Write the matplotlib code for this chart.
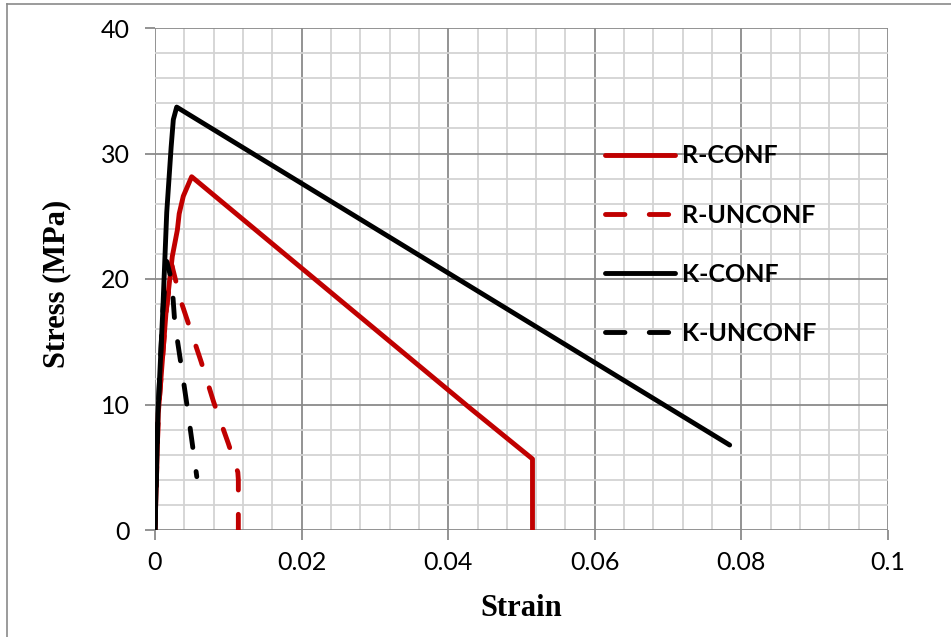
import matplotlib
matplotlib.use("Agg")
import matplotlib.pyplot as plt
from matplotlib.lines import Line2D

# ---- data ----
r_conf_strain = [0, 0.00045, 0.0015, 0.00236, 0.00305, 0.0033, 0.00386, 0.0050, 0.0430, 0.0515, 0.0515]
r_conf_stress = [0, 9.3, 17.3, 21.8, 23.9, 25.2, 26.6, 28.15, 9.7, 5.66, 0]

r_unconf_strain = [0, 0.00045, 0.0015, 0.0023, 0.0035, 0.0063, 0.0080, 0.0100, 0.0113, 0.01137, 0.01137]
r_unconf_stress = [0, 9.3, 17.3, 21.1, 18.3, 13.4, 10.2, 6.9, 4.6, 4.0, 0]

k_conf_strain = [0, 0.0004, 0.00105, 0.0016, 0.0022, 0.0025, 0.00296, 0.0784]
k_conf_stress = [0, 9.3, 17.3, 25.3, 30.5, 32.7, 33.7, 6.77]

k_unconf_strain = [0, 0.0004, 0.00105, 0.0016, 0.0023, 0.0027, 0.0036, 0.0044, 0.0052, 0.0057]
k_unconf_stress = [0, 9.3, 17.3, 21.4, 19.8, 16.5, 13.0, 9.8, 6.4, 4.25]

series_labels = ["R-CONF", "R-UNCONF", "K-CONF", "K-UNCONF"]
x_ticks = [0, 0.02, 0.04, 0.06, 0.08, 0.1]
x_ticklabels = ["0", "0.02", "0.04", "0.06", "0.08", "0.1"]
y_ticks = [0, 10, 20, 30, 40]

RED = "#C00000"
BLACK = "#000000"

W, H = 951, 637
fig = plt.figure(figsize=(W / 100, H / 100), dpi=100)
ax = fig.add_axes([155 / W, 1 - 530 / H, 733 / W, 502 / H])

# grid
for xv in [i * 0.004 for i in range(26)]:
    major = abs((xv / 0.02) - round(xv / 0.02)) < 1e-6
    ax.axvline(xv, color="#8a8a8a" if major else "#d3d3d3", lw=1.3, zorder=0)
for yv in range(0, 41, 2):
    major = yv % 10 == 0
    ax.axhline(yv, color="#8a8a8a" if major else "#d3d3d3", lw=1.3, zorder=0)

lw = 3.5
common = dict(lw=lw, solid_capstyle="round", dash_capstyle="round", solid_joinstyle="round")
ax.plot(r_conf_strain, r_conf_stress, color=RED, label=series_labels[0], **common)
ax.plot(r_unconf_strain, r_unconf_stress, color=RED, dashes=(4.0, 5.0), label=series_labels[1], **common)
ax.plot(k_conf_strain, k_conf_stress, color=BLACK, label=series_labels[2], **common)
ax.plot(k_unconf_strain, k_unconf_stress, color=BLACK, dashes=(4.0, 5.0), label=series_labels[3], **common)

ax.set_xlim(0, 0.1)
ax.set_ylim(0, 40)
ax.set_xticks(x_ticks)
ax.set_xticklabels(x_ticklabels)
ax.set_yticks(y_ticks)
for s in ax.spines.values():
    s.set_visible(False)
ax.tick_params(axis="both", direction="out", length=7, width=1.3, color="#8a8a8a",
               labelsize=18, labelcolor="black")
ax.tick_params(axis="x", pad=8)
ax.tick_params(axis="y", pad=11)
for lab in ax.get_xticklabels() + ax.get_yticklabels():
    lab.set_family("Lato")

ax.set_xlabel("Strain", family="Liberation Serif", fontweight="bold", fontsize=22)
ax.set_ylabel("Stress (MPa)", family="Liberation Serif", fontweight="bold", fontsize=22)
ax.xaxis.set_label_coords(0.5, -0.128)
ax.yaxis.set_label_coords(-0.114, 0.49)

leg = ax.legend(loc="upper left", bbox_to_anchor=(0.614, 0.768), frameon=False,
                prop={"family": "Lato", "weight": "bold", "size": 18},
                handlelength=2.8, handletextpad=0.28, labelspacing=1.45,
                borderpad=0, borderaxespad=0)

# figure border (top & left only)
fig.add_artist(Line2D([7 / W, 1], [1 - 4 / H, 1 - 4 / H], color="#8a8a8a", lw=1.2, transform=fig.transFigure))
fig.add_artist(Line2D([7 / W, 7 / W], [0, 1 - 4 / H], color="#8a8a8a", lw=1.2, transform=fig.transFigure))

fig.savefig("out.png", dpi=100)
